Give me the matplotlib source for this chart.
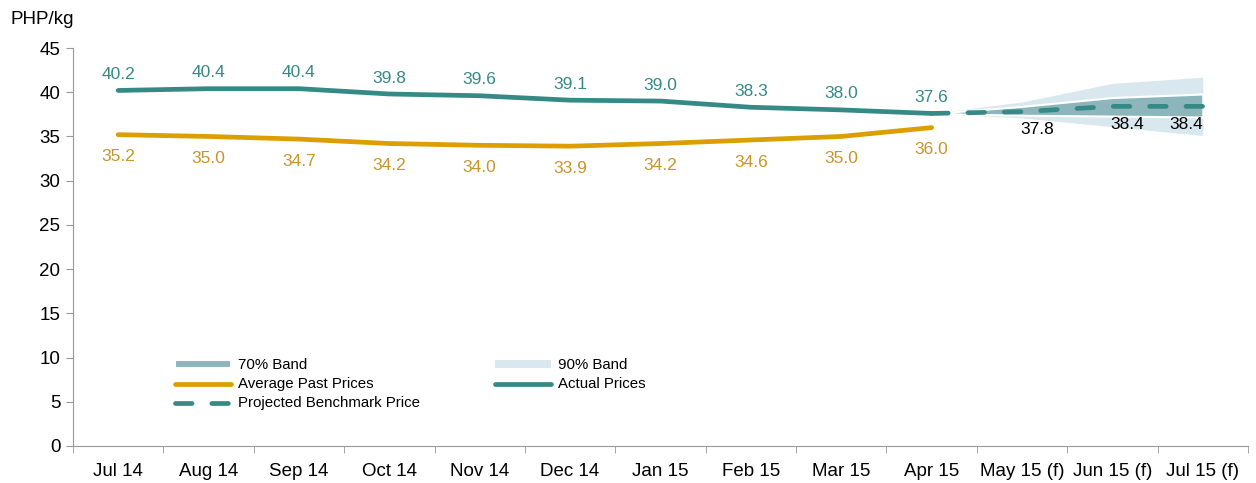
import matplotlib.pyplot as plt
import numpy as np

plt.rcParams['font.family'] = ['Liberation Sans', 'DejaVu Sans']

# Datos
meses = ["Jul 14", "Aug 14", "Sep 14", "Oct 14", "Nov 14", "Dec 14", "Jan 15",
         "Feb 15", "Mar 15", "Apr 15", "May 15 (f)", "Jun 15 (f)", "Jul 15 (f)"]
actual = [40.2, 40.4, 40.4, 39.8, 39.6, 39.1, 39.0, 38.3, 38.0, 37.6]
promedio = [35.2, 35.0, 34.7, 34.2, 34.0, 33.9, 34.2, 34.6, 35.0, 36.0]
# proyeccion desde Apr 15
proyectado = [37.6, 37.8, 38.4, 38.4]
banda70_inf = [37.6, 37.4, 37.3, 37.2]
banda70_sup = [37.6, 38.4, 39.4, 39.8]
banda90_inf = [37.6, 37.1, 36.1, 35.1]
banda90_sup = [37.6, 38.9, 41.0, 41.7]

c_actual = "#358a86"
c_prom = "#dc9e00"
c_prom_txt = "#c8952a"
c_70 = "#8cb5bc"
c_90 = "#d9e8ef"

fig = plt.figure(figsize=(12.56, 4.83), dpi=100)
ax = fig.add_axes([73 / 1256, 1 - 446 / 483, 1175 / 1256, 398 / 483])

x_act = np.arange(len(actual))
x_proy = np.arange(len(actual) - 1, len(meses))

# bandas
b90 = ax.fill_between(x_proy, banda90_inf, banda90_sup, color=c_90, lw=0,
                      label="90% Band", zorder=1)
b70 = ax.fill_between(x_proy, banda70_inf, banda70_sup, color=c_70,
                      edgecolor="white", lw=1.5, label="70% Band", zorder=2)

# lineas
l_prom, = ax.plot(x_act, promedio, color=c_prom, lw=3.4, solid_capstyle="round",
                  label="Average Past Prices", zorder=3)
l_act, = ax.plot(x_act, actual, color=c_actual, lw=3.4, solid_capstyle="round",
                 label="Actual Prices", zorder=3)
l_proy, = ax.plot(x_proy, proyectado, color=c_actual, lw=3.4, dashes=(3.5, 4.2),
                  dash_capstyle="round", label="Projected Benchmark Price", zorder=4)

# etiquetas
for xi, v in zip(x_act, actual):
    ax.annotate("{:.1f}".format(v), xy=(xi, v), xytext=(0, 11.5),
                textcoords="offset points", ha="center", va="center",
                color=c_actual, fontsize=12.5)
for xi, v in zip(x_act, promedio):
    ax.annotate("{:.1f}".format(v), xy=(xi, v), xytext=(0, -16),
                textcoords="offset points", ha="center", va="center",
                color=c_prom_txt, fontsize=12.5)
for i, (xi, v) in enumerate(zip(x_proy[1:], proyectado[1:])):
    dx = 11 if i < 2 else -12
    ax.annotate("{:.1f}".format(v), xy=(xi, v), xytext=(dx, -13),
                textcoords="offset points", ha="center", va="center",
                color="black", fontsize=12.5)

# ejes
ax.set_xlim(-0.5, len(meses) - 0.5)
ax.set_ylim(0, 45)
ax.set_yticks(np.arange(0, 46, 5))
ax.set_xticks(np.arange(len(meses)))
ax.set_xticklabels(meses)
ax.set_xticks(np.arange(-0.5, len(meses), 1), minor=True)
ax.tick_params(axis="x", which="major", length=0, pad=12, labelsize=13.5)
ax.tick_params(axis="x", which="minor", length=5, color="#999999")
ax.tick_params(axis="y", length=5, color="#999999", labelsize=13.5, pad=4)
for s in ["top", "right"]:
    ax.spines[s].set_visible(False)
for s in ["left", "bottom"]:
    ax.spines[s].set_color("#999999")

fig.text(10 / 1256, 1 - 20 / 483, "PHP/kg", fontsize=13.5, va="center", ha="left")

ax.legend(handles=[b70, l_prom, l_proy, b90, l_act], ncol=2, frameon=False,
          loc="upper left", bbox_to_anchor=(0.087, 0.22), borderaxespad=0,
          borderpad=0, fontsize=10.8, handlelength=3.7, handletextpad=0.5,
          labelspacing=0.33, columnspacing=5.0, handleheight=0.5)

fig.savefig("out.png", dpi=100)
